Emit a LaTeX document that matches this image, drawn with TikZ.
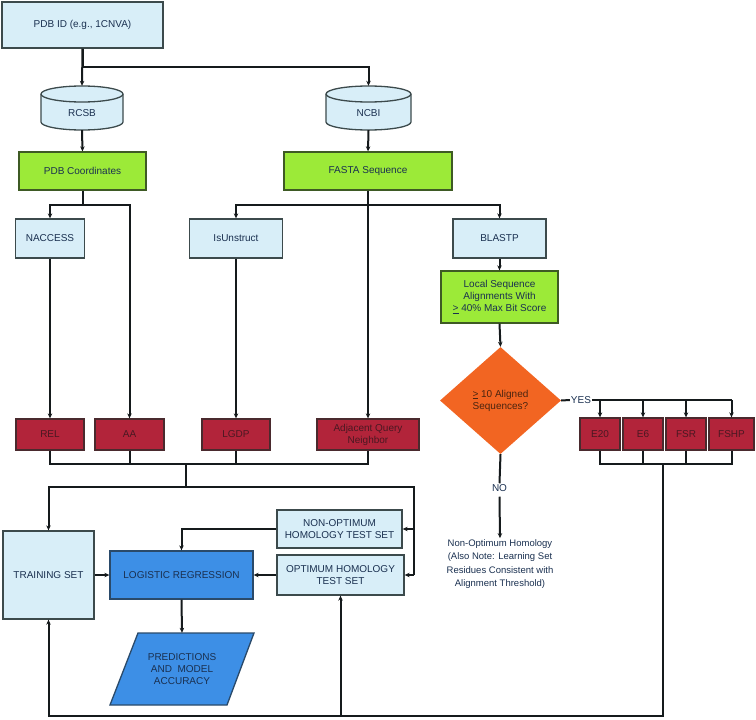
\documentclass[tikz,border=0pt]{standalone}
\usepackage{fontspec}
\setmainfont{Liberation Sans}
\usetikzlibrary{arrows.meta,shapes.geometric,calc}
\definecolor{lb}{HTML}{D8EEF8}
\definecolor{bd}{HTML}{3C4A4C}
\definecolor{gr}{HTML}{9CEA38}
\definecolor{gbd}{HTML}{3E5A24}
\definecolor{rd}{HTML}{B2243A}
\definecolor{rbd}{HTML}{4A2A2E}
\definecolor{bl}{HTML}{3D8FE6}
\definecolor{bbd}{HTML}{2A4A6A}
\definecolor{org}{HTML}{F26522}
\definecolor{tx}{HTML}{1A3050}
\definecolor{rtx}{HTML}{4A1822}
\definecolor{otx}{HTML}{4A2410}
\definecolor{ln}{HTML}{151A1C}
\tikzset{
  base/.style={rectangle, inner sep=1pt, align=center, font=\fontsize{10}{12}\selectfont, line width=1.3pt},
  lbox/.style={base, fill=lb, draw=bd, text=tx},
  gbox/.style={base, fill=gr, draw=gbd, text=tx},
  rbox/.style={base, fill=rd, draw=rbd, text=rtx},
  bbox/.style={base, fill=bl, draw=bbd, text=tx},
  conn/.style={draw=ln, line width=2pt},
  arr/.style={conn, -{Stealth[length=5pt,width=4.5pt]}},
  plain/.style={align=center, font=\fontsize{10}{12}\selectfont, text=tx, inner sep=1pt},
}
\begin{document}
\begin{tikzpicture}[x=1pt,y=-1pt]
\useasboundingbox (0,0) rectangle (756,720);
% top
\node[lbox, minimum width=161, minimum height=46] (pdbid) at (82.5,25) {PDB ID (e.g., 1CNVA)};
% cylinders
\foreach \cx/\rx in {82/41, 368.5/42.5}{
  \path[fill=lb, draw=bd, line width=1.3pt] (\cx-\rx,94) -- (\cx-\rx,122)
     arc[start angle=180, end angle=0, x radius=\rx, y radius=8] -- (\cx+\rx,94)
     arc[start angle=0, end angle=-180, x radius=\rx, y radius=8] -- cycle;
  \draw[bd, line width=1.3pt] (\cx-\rx,94) arc[start angle=180, end angle=0, x radius=\rx, y radius=8];
}
\node[plain, minimum width=82, minimum height=44] (rcsb) at (82,108) {};
\node[plain] (rcsbt) at (82,113) {RCSB};
\node[plain, minimum width=85, minimum height=44] (ncbi) at (368.5,108) {};
\node[plain] (ncbit) at (368.5,113) {NCBI};
\node[gbox, minimum width=127, minimum height=38] (pdbc) at (82.5,171) {PDB Coordinates};
\node[gbox, minimum width=168, minimum height=38] (fasta) at (368,171) {FASTA Sequence};
\node[lbox, minimum width=69, minimum height=39] (naccess) at (50,238.5) {NACCESS};
\node[lbox, minimum width=93, minimum height=39] (isun) at (236,238.5) {IsUnstruct};
\node[lbox, minimum width=93, minimum height=39] (blastp) at (499.5,238.5) {BLASTP};
\node[gbox, minimum width=117, minimum height=52] (local) at (499.5,297) {Local Sequence\\Alignments With\\\underline{>} 40\% Max Bit Score};
\node[diamond, fill=org, draw=none, minimum width=121, minimum height=107, aspect=1.13, inner sep=0pt, align=center, text=otx, font=\fontsize{10}{12}\selectfont] (dia) at (500.5,400.5) {\underline{>} 10 Aligned\\Sequences?};
% red boxes
\node[rbox, minimum width=68, minimum height=31] (rel) at (50,434.5) {REL};
\node[rbox, minimum width=69, minimum height=31] (aa) at (129.5,434.5) {AA};
\node[rbox, minimum width=68, minimum height=31] (lgdp) at (236,434.5) {LGDP};
\node[rbox, minimum width=102, minimum height=31] (aqn) at (368,434.5) {Adjacent Query\\Neighbor};
\node[rbox, minimum width=40, minimum height=32] (e20) at (600,434) {E20};
\node[rbox, minimum width=40, minimum height=32] (e6) at (643,434) {E6};
\node[rbox, minimum width=40, minimum height=32] (fsr) at (686,434) {FSR};
\node[rbox, minimum width=45, minimum height=32] (fshp) at (731.5,434) {FSHP};
% lower part
\node[lbox, minimum width=91, minimum height=88] (training) at (48.5,575) {TRAINING SET};
\node[bbox, minimum width=143, minimum height=48] (logreg) at (181.5,575) {LOGISTIC REGRESSION};
\node[lbox, minimum width=125, minimum height=38] (nonopt) at (339.5,529) {NON-OPTIMUM\\HOMOLOGY TEST SET};
\node[lbox, minimum width=127, minimum height=40] (opt) at (340.5,575) {OPTIMUM HOMOLOGY\\TEST SET};
\path[fill=bl, draw=bbd, line width=1.3pt] (138,633) -- (254,633) -- (227,705) -- (110,705) -- cycle;
\node[plain, minimum width=90, minimum height=72] (pred) at (182,669) {PREDICTIONS\\AND\ \ MODEL\\ACCURACY};
\node[plain, text=tx] (yes) at (581,400) {YES};
\node[plain] (no) at (499.5,488) {NO};
\node[plain, font=\fontsize{9.5}{13.5}\selectfont] (note) at (500,564) {Non-Optimum Homology\\(Also Note: Learning Set\\Residues Consistent with\\Alignment Threshold)};
% connectors top
\draw[arr] (pdbid.south) -- (rcsb.north);
\draw[arr] (pdbid.south) -- ++(0,18) -| (ncbi.north);
\draw[arr] (rcsb.south) -- (pdbc.north);
\draw[arr] (ncbi.south) -- (fasta.north);
\draw[conn] (pdbc.south) -- ++(0,14) coordinate (j1);
\draw[arr] (j1) -| (naccess.north);
\draw[arr] (j1) -| (aa.north);
\draw[conn] (fasta.south) -- ++(0,14) coordinate (j2);
\draw[arr] (j2) -| (isun.north);
\draw[arr] (j2) -| (blastp.north);
\draw[arr] (fasta.south) -- (aqn.north);
\draw[arr] (naccess.south) -- (rel.north);
\draw[arr] (isun.south) -- (lgdp.north);
\draw[arr] (blastp.south) -- (local.north);
\draw[arr] (local.south) -- (dia.north);
% merge of features
\coordinate (m1) at (186,464);
\coordinate (m2) at (186,487);
\coordinate (r) at (414,487);
\draw[conn] (rel.south) |- (m1) -| (aqn.south);
\draw[conn] (aa.south) -- (aa.south |- m1);
\draw[conn] (lgdp.south) -- (lgdp.south |- m1);
\draw[conn] (m1) -- (m2) -- (r) -- (r |- opt.east);
\draw[arr] (m2) -| (training.north);
\draw[arr] (r |- nonopt.east) -- (nonopt.east);
\draw[arr] (r |- opt.east) -- (opt.east);
\draw[arr] (nonopt.west) -| (logreg.north);
\draw[arr] (training.east) -- (logreg.west);
\draw[arr] (opt.west) -- (logreg.east);
\draw[arr] (logreg.south) -- (pred.north);
% yes branch
\draw[conn] (dia.east) -- (yes.west);
\draw[conn] (yes.east) -- (yes.east -| fshp.north);
\draw[arr] (e20.north |- yes.east) -- (e20.north);
\draw[arr] (e6.north |- yes.east) -- (e6.north);
\draw[arr] (fsr.north |- yes.east) -- (fsr.north);
\draw[arr] (fshp.north |- yes.east) -- (fshp.north);
\coordinate (b1) at (663,464);
\coordinate (b2) at (663,716);
\coordinate (b3) at (340.5,716);
\draw[conn] (e20.south) |- (b1) -| (fshp.south);
\draw[conn] (e6.south) -- (e6.south |- b1);
\draw[conn] (fsr.south) -- (fsr.south |- b1);
\draw[conn] (b1) -- (b2) -- (b3);
\draw[arr] (b3) -- (opt.south);
\draw[arr] (b3) -| (training.south);
% no branch
\draw[conn] (dia.south) -- (no.north);
\draw[arr] (no.south) ++(0,4) -- (note.north);
\end{tikzpicture}
\end{document}
